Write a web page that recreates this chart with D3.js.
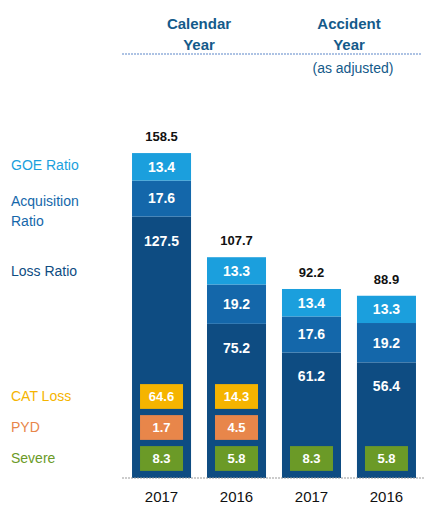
<!DOCTYPE html>
<html>
<head>
<meta charset="utf-8">
<script src="https://cdn.jsdelivr.net/npm/d3@7"></script>
<style>
  body { margin: 0; background: #fff; }
  text { font-family: "Liberation Sans", Arial, sans-serif; }
</style>
</head>
<body>
<div id="chart"></div>
<script>
// values
const years = ["2017", "2016", "2017", "2016"];
const lossRatio = [127.5, 75.2, 61.2, 56.4];
const acqRatio = [17.6, 19.2, 17.6, 19.2];
const goeRatio = [13.4, 13.3, 13.4, 13.3];
const totals = [158.5, 107.7, 92.2, 88.9];
const catLoss = [64.6, 14.3, null, null];
const pyd = [1.7, 4.5, null, null];
const severe = [8.3, 5.8, 8.3, 5.8];
const groups = [["Calendar", "Year"], ["Accident", "Year"]];

const width = 424, height = 506;
const svg = d3.select("#chart").append("svg")
    .attr("width", width)
    .attr("height", height);

const x = d3.scaleBand()
    .domain(d3.range(years.length))
    .range([124, 424])
    .paddingInner(0.213)
    .paddingOuter(0.107);

const y = d3.scaleLinear()
    .domain([0, 160])
    .range([478, 150]);

const rows = d3.scaleBand()
    .domain(["cat", "pyd", "severe"])
    .range([381, 474])
    .paddingInner(0.2)
    .paddingOuter(0.1);

const colors = {
    goe: "#1b9fdd",
    acq: "#1467aa",
    loss: "#0e4c82",
    cat: "#f5b400",
    pyd: "#e8864a",
    severe: "#6b9a27"
};

// stacked segments: loss at bottom, then acquisition, then GOE
const segs = [];
years.forEach((yr, i) => {
    segs.push({ i, key: "loss", y0: 0, y1: lossRatio[i], v: lossRatio[i] });
    segs.push({ i, key: "acq", y0: lossRatio[i], y1: lossRatio[i] + acqRatio[i], v: acqRatio[i] });
    segs.push({ i, key: "goe", y0: lossRatio[i] + acqRatio[i], y1: totals[i], v: goeRatio[i] });
});

svg.selectAll("rect.seg")
    .data(segs)
    .join("rect")
    .attr("class", "seg")
    .attr("x", d => x(d.i))
    .attr("width", x.bandwidth())
    .attr("y", d => y(d.y1))
    .attr("height", d => y(d.y0) - y(d.y1))
    .attr("fill", d => colors[d.key]);

// segment values
svg.selectAll("text.seg")
    .data(segs)
    .join("text")
    .attr("class", "seg")
    .attr("x", d => x(d.i) + x.bandwidth() / 2)
    .attr("y", d => d.key === "loss" ? y(d.y1) + 24 : (y(d.y0) + y(d.y1)) / 2)
    .attr("dy", "0.35em")
    .attr("text-anchor", "middle")
    .attr("fill", "#fff")
    .attr("font-size", 14)
    .attr("font-weight", "bold")
    .text(d => d.v.toFixed(1));

// totals
svg.selectAll("text.total")
    .data(totals)
    .join("text")
    .attr("class", "total")
    .attr("x", (d, i) => x(i) + x.bandwidth() / 2)
    .attr("y", d => y(d) - 12)
    .attr("text-anchor", "middle")
    .attr("fill", "#111")
    .attr("font-size", 13)
    .attr("font-weight", "bold")
    .text(d => d.toFixed(1));

// small boxes inside loss segment
const boxes = [];
years.forEach((yr, i) => {
    if (catLoss[i] != null) boxes.push({ i, key: "cat", v: catLoss[i] });
    if (pyd[i] != null) boxes.push({ i, key: "pyd", v: pyd[i] });
    if (severe[i] != null) boxes.push({ i, key: "severe", v: severe[i] });
});
const boxW = 43;

svg.selectAll("rect.box")
    .data(boxes)
    .join("rect")
    .attr("class", "box")
    .attr("x", d => x(d.i) + (x.bandwidth() - boxW) / 2)
    .attr("y", d => rows(d.key))
    .attr("width", boxW)
    .attr("height", rows.bandwidth())
    .attr("fill", d => colors[d.key]);

svg.selectAll("text.box")
    .data(boxes)
    .join("text")
    .attr("class", "box")
    .attr("x", d => x(d.i) + x.bandwidth() / 2)
    .attr("y", d => rows(d.key) + rows.bandwidth() / 2)
    .attr("dy", "0.35em")
    .attr("text-anchor", "middle")
    .attr("fill", "#fff")
    .attr("font-size", 13)
    .attr("font-weight", "bold")
    .text(d => d.v.toFixed(1));

// baseline
svg.append("line")
    .attr("x1", 122).attr("x2", 424)
    .attr("y1", y(0)).attr("y2", y(0))
    .attr("stroke", "#999")
    .attr("stroke-dasharray", "2,1");

// year labels
svg.selectAll("text.year")
    .data(years)
    .join("text")
    .attr("class", "year")
    .attr("x", (d, i) => x(i) + x.bandwidth() / 2)
    .attr("y", 502)
    .attr("text-anchor", "middle")
    .attr("fill", "#111")
    .attr("font-size", 15)
    .text(d => d);

// left legend labels
const legend = [
    { lines: ["GOE Ratio"], y: 165, c: colors.goe },
    { lines: ["Acquisition", "Ratio"], y: 201, c: colors.acq },
    { lines: ["Loss Ratio"], y: 271, c: colors.loss },
    { lines: ["CAT Loss"], y: rows("cat") + rows.bandwidth() / 2, c: colors.cat },
    { lines: ["PYD"], y: rows("pyd") + rows.bandwidth() / 2, c: colors.pyd },
    { lines: ["Severe"], y: rows("severe") + rows.bandwidth() / 2, c: colors.severe }
];
legend.forEach(l => {
    const t = svg.append("text")
        .attr("x", 11)
        .attr("y", l.y)
        .attr("dy", "0.35em")
        .attr("fill", l.c)
        .attr("font-size", 14);
    l.lines.forEach((s, k) => {
        t.append("tspan").attr("x", 11).attr("dy", k === 0 ? "0.35em" : "1.4em").text(s);
    });
});

// group headers
const headerColor = "#145a8a";
const groupSpan = [[0, 1], [2, 3]];
groups.forEach((g, gi) => {
    const a = groupSpan[gi][0], b = groupSpan[gi][1];
    const cx = (x(a) + x(b) + x.bandwidth()) / 2;
    g.forEach((s, k) => {
        svg.append("text")
            .attr("x", cx)
            .attr("y", 29 + k * 21)
            .attr("text-anchor", "middle")
            .attr("fill", headerColor)
            .attr("font-size", 15)
            .attr("font-weight", "bold")
            .text(s);
    });
    svg.append("line")
        .attr("x1", x(a) - 10)
        .attr("x2", Math.min(424, x(b) + x.bandwidth() + 6))
        .attr("y1", 54).attr("y2", 54)
        .attr("stroke", "#5b86c8")
        .attr("stroke-width", 1.2)
        .attr("stroke-dasharray", "2,1");
});
svg.append("text")
    .attr("x", (x(2) + x(3) + x.bandwidth()) / 2 + 4)
    .attr("y", 73)
    .attr("text-anchor", "middle")
    .attr("fill", headerColor)
    .attr("font-size", 14)
    .text("(as adjusted)");
</script>
</body>
</html>
